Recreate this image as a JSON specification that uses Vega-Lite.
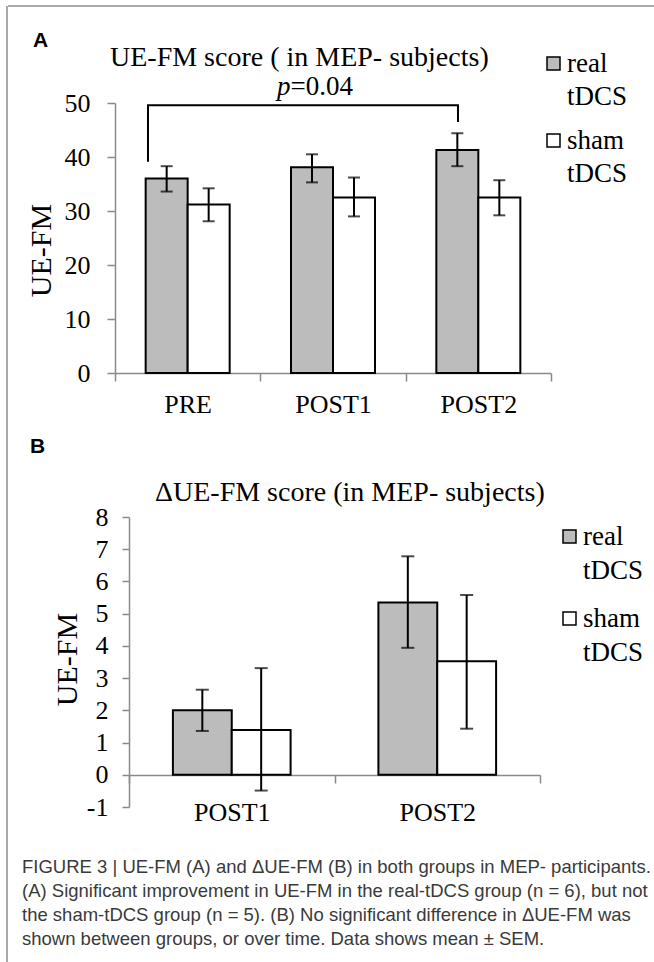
{
  "$schema": "https://vega.github.io/schema/vega-lite/v6.json",
  "background": "white",
  "padding": {"left": 6, "top": 5, "right": 0, "bottom": 0},
  "autosize": {"type": "pad"},
  "config": {
    "view": {"stroke": null},
    "font": "Liberation Serif",
    "axis": {
      "domainColor": "#8a8a8a", "domainWidth": 1.5, "tickColor": "#8a8a8a", "tickWidth": 1.5, "tickSize": 8,
      "labelFont": "Liberation Serif", "labelFontSize": 26, "labelColor": "black",
      "titleFont": "Liberation Serif", "titleFontSize": 30, "titleFontWeight": "normal", "titleColor": "black",
      "grid": false
    },
    "legend": {"labelFont": "Liberation Serif", "labelFontSize": 27, "labelColor": "black"},
    "title": {"font": "Liberation Serif", "fontSize": 28, "fontWeight": "normal", "color": "black"}
  },
  "spacing": -1,
  "hconcat": [
    {
      "width": 1,
      "height": 1,
      "data": {"values": [{"fx": 0, "fy": 0, "fy2": 1}]},
      "mark": {"type": "rule", "color": "#8c8c8c", "strokeWidth": 1.5},
      "encoding": {
        "x": {"field": "fx", "type": "quantitative", "scale": {"domain": [0, 1], "range": [0, 1], "nice": false, "zero": false}, "axis": null},
        "y": {"field": "fy", "type": "quantitative", "scale": {"domain": [0, 1], "range": [-97, 859], "nice": false, "zero": false}, "axis": null},
        "y2": {"field": "fy2"}
      }
    },
    {
      "title": {
        "text": [
          "FIGURE 3 | UE-FM (A) and ΔUE-FM (B) in both groups in MEP- participants.",
          "(A) Significant improvement in UE-FM in the real-tDCS group (n = 6), but not",
          "the sham-tDCS group (n = 5). (B) No significant difference in ΔUE-FM was",
          "shown between groups, or over time. Data shows mean ± SEM."
        ],
        "orient": "bottom", "anchor": "start", "frame": "bounds", "dx": 14.75, "offset": 33,
        "font": "Liberation Sans", "fontSize": 18.5, "lineHeight": 24, "color": "#3a3a3a", "fontWeight": "normal"
      },
      "spacing": 19,
      "resolve": {"scale": {"fill": "independent", "xOffset": "independent"}, "legend": {"fill": "independent"}},
      "vconcat": [
        {
          "title": {"text": "A", "anchor": "start", "frame": "bounds", "dx": 25.75, "offset": -45.65, "font": "Liberation Sans", "fontSize": 21, "fontWeight": "bold"},
          "vconcat": [
            {
              "width": 436,
              "height": 270,
              "title": {"text": "UE-FM score ( in  MEP- subjects)", "anchor": "start", "frame": "group", "dx": -5, "offset": -66.65},
              "layer": [
                {
                  "layer": [
                    {
                      "data": {"values": [
                        {"time": "PRE", "group": "real tDCS", "mean": 36.0, "lo": 33.6, "hi": 38.3},
                        {"time": "PRE", "group": "sham tDCS", "mean": 31.2, "lo": 28.1, "hi": 34.2},
                        {"time": "POST1", "group": "real tDCS", "mean": 38.1, "lo": 35.3, "hi": 40.5},
                        {"time": "POST1", "group": "sham tDCS", "mean": 32.5, "lo": 29.0, "hi": 36.2},
                        {"time": "POST2", "group": "real tDCS", "mean": 41.3, "lo": 38.3, "hi": 44.4},
                        {"time": "POST2", "group": "sham tDCS", "mean": 32.5, "lo": 29.2, "hi": 35.7}
                      ]},
                      "encoding": {
                        "x": {"field": "time", "type": "nominal", "sort": ["PRE", "POST1", "POST2"],
                              "scale": {"paddingInner": 0, "paddingOuter": 0},
                              "axis": {"title": null, "labelAngle": 0, "tickBand": "extent", "labelPadding": 10, "labelFontSize": 26}},
                        "xOffset": {"field": "group", "type": "nominal", "scale": {"paddingInner": 0, "paddingOuter": 0.73, "range": [0, 145.33]}}
                      },
                      "layer": [
                        {
                          "mark": {"type": "bar", "stroke": "black", "strokeWidth": 2},
                          "encoding": {
                            "y": {"field": "mean", "type": "quantitative", "title": "UE-FM", "scale": {"domain": [0, 50]},
                                  "axis": {"values": [0, 10, 20, 30, 40, 50], "labelOverlap": false, "labelPadding": 17, "titleX": -65, "titleY": 147, "titleBaseline": "alphabetic", "titleAngle": 270, "titleAlign": "center"}},
                            "fill": {"field": "group", "type": "nominal",
                                     "scale": {"domain": ["real tDCS", "sham tDCS"], "range": ["#bcbcbc", "#ffffff"]},
                                     "legend": {"title": null, "orient": "none", "legendX": 425, "legendY": -53, "symbolType": "square", "symbolSize": 169,
                                                "symbolStrokeColor": "black", "symbolStrokeWidth": 1.5, "labelExpr": "split(datum.label, ' ')",
                                                "labelOffset": 0, "rowPadding": 16, "labelFontSize": 27, "labelBaseline": "middle", "padding": 0, "labelLimit": 0,
                                                "encode": {"labels": {"update": {"lineHeight": {"value": 33}}}}}}
                          }
                        },
                        {
                          "mark": {"type": "rule", "color": "black", "strokeWidth": 2},
                          "encoding": {
                            "y": {"field": "lo", "type": "quantitative", "title": "UE-FM", "scale": {"domain": [0, 50]},
                                  "axis": {"values": [0, 10, 20, 30, 40, 50], "labelOverlap": false, "labelPadding": 17, "titleX": -65, "titleY": 147, "titleBaseline": "alphabetic", "titleAngle": 270, "titleAlign": "center"}},
                            "y2": {"field": "hi"}
                          }
                        },
                        {
                          "mark": {"type": "tick", "color": "black", "thickness": 2, "size": 12, "orient": "horizontal"},
                          "encoding": {"y": {"field": "lo", "type": "quantitative", "title": "UE-FM", "scale": {"domain": [0, 50]},
                                  "axis": {"values": [0, 10, 20, 30, 40, 50], "labelOverlap": false, "labelPadding": 17, "titleX": -65, "titleY": 147, "titleBaseline": "alphabetic", "titleAngle": 270, "titleAlign": "center"}}}
                        },
                        {
                          "mark": {"type": "tick", "color": "black", "thickness": 2, "size": 12, "orient": "horizontal"},
                          "encoding": {"y": {"field": "hi", "type": "quantitative", "title": "UE-FM", "scale": {"domain": [0, 50]},
                                  "axis": {"values": [0, 10, 20, 30, 40, 50], "labelOverlap": false, "labelPadding": 17, "titleX": -65, "titleY": 147, "titleBaseline": "alphabetic", "titleAngle": 270, "titleAlign": "center"}}}
                        }
                      ]
                    },
                    {
                      "data": {"values": [
                        {"bx": 0.227, "by": 39.1, "o": 1},
                        {"bx": 0.227, "by": 49.6, "o": 2},
                        {"bx": 2.36, "by": 49.6, "o": 3},
                        {"bx": 2.36, "by": 46.5, "o": 4}
                      ]},
                      "mark": {"type": "line", "color": "black", "strokeWidth": 2},
                      "encoding": {
                        "x": {"field": "bx", "type": "quantitative", "scale": {"domain": [0, 3], "nice": false, "zero": false}, "axis": null},
                        "y": {"field": "by", "type": "quantitative", "title": "UE-FM", "scale": {"domain": [0, 50]},
                              "axis": {"values": [0, 10, 20, 30, 40, 50], "labelOverlap": false, "labelPadding": 17, "titleX": -65, "titleY": 147, "titleBaseline": "alphabetic", "titleAngle": 270, "titleAlign": "center"}},
                        "order": {"field": "o", "type": "quantitative"}
                      }
                    },
                    {
                      "data": {"values": [{"tx": 1.208, "ty": 51.5, "p": "p", "rest": "=0.04"}]},
                      "encoding": {
                        "x": {"field": "tx", "type": "quantitative", "scale": {"domain": [0, 3], "nice": false, "zero": false}, "axis": null},
                        "y": {"field": "ty", "type": "quantitative", "title": "UE-FM", "scale": {"domain": [0, 50]},
                              "axis": {"values": [0, 10, 20, 30, 40, 50], "labelOverlap": false, "labelPadding": 17, "titleX": -65, "titleY": 147, "titleBaseline": "alphabetic", "titleAngle": 270, "titleAlign": "center"}}
                      },
                      "layer": [
                        {"mark": {"type": "text", "align": "right", "baseline": "alphabetic", "fontStyle": "italic", "fontSize": 27, "font": "Liberation Serif", "color": "black"},
                         "encoding": {"text": {"field": "p"}}},
                        {"mark": {"type": "text", "align": "left", "baseline": "alphabetic", "fontSize": 27, "font": "Liberation Serif", "color": "black"},
                         "encoding": {"text": {"field": "rest"}}}
                      ]
                    }
                  ],
                  "resolve": {"scale": {"x": "independent"}}
                },
                {
                  "data": {"values": [{"fx": 0, "fx2": 1, "fy": 0}]},
                  "mark": {"type": "rule", "color": "#8c8c8c", "strokeWidth": 1.5},
                  "encoding": {
                    "x": {"field": "fx", "type": "quantitative", "scale": {"domain": [0, 1], "range": [-107, 539], "nice": false, "zero": false}, "axis": null},
                    "x2": {"field": "fx2"},
                    "y": {"field": "fy", "type": "quantitative", "scale": {"domain": [0, 1], "range": [-97, 859], "nice": false, "zero": false}, "axis": null}
                  }
                }
              ],
              "resolve": {"scale": {"x": "independent", "y": "independent"}}
            }
          ]
        },
        {
          "title": {"text": "B", "anchor": "start", "frame": "bounds", "dx": -22, "offset": 22, "font": "Liberation Sans", "fontSize": 21, "fontWeight": "bold"},
          "vconcat": [
            {
              "width": 425,
              "height": 290,
              "title": {"text": "ΔUE-FM score  (in MEP- subjects)", "anchor": "start", "frame": "group", "dx": 40, "offset": -3},
              "data": {"values": [
                {"time": "POST1", "group": "real tDCS", "mean": 2.0, "lo": 1.36, "hi": 2.64},
                {"time": "POST1", "group": "sham tDCS", "mean": 1.39, "lo": -0.49, "hi": 3.31},
                {"time": "POST2", "group": "real tDCS", "mean": 5.35, "lo": 3.94, "hi": 6.78},
                {"time": "POST2", "group": "sham tDCS", "mean": 3.52, "lo": 1.43, "hi": 5.58}
              ]},
              "encoding": {
                "x": {"field": "time", "type": "nominal", "sort": ["POST1", "POST2"],
                      "scale": {"paddingInner": 0, "paddingOuter": 0, "range": [14, 425]},
                      "axis": {"title": null, "labelAngle": 0, "tickBand": "extent", "labelPadding": 16, "offset": -32, "labelFontSize": 26}},
                "xOffset": {"field": "group", "type": "nominal", "scale": {"paddingInner": 0, "paddingOuter": 0.746, "range": [0, 205.5]}}
              },
              "layer": [
                {
                  "mark": {"type": "bar", "stroke": "black", "strokeWidth": 2},
                  "encoding": {
                    "y": {"field": "mean", "type": "quantitative", "title": "UE-FM", "scale": {"domain": [-1, 8], "nice": false},
                          "axis": {"values": [-1, 0, 1, 2, 3, 4, 5, 6, 7, 8], "labelExpr": "'' + datum.value", "labelOverlap": false, "offset": -14,
                                   "labelPadding": 14, "tickSize": 7, "titleX": -53, "titleY": 142, "titleBaseline": "alphabetic", "titleAngle": 270, "titleAlign": "center"}},
                    "fill": {"field": "group", "type": "nominal",
                             "scale": {"domain": ["real tDCS", "sham tDCS"], "range": ["#bcbcbc", "#ffffff"]},
                             "legend": {"title": null, "orient": "none", "legendX": 441, "legendY": 6, "symbolType": "square", "symbolSize": 169,
                                        "symbolStrokeColor": "black", "symbolStrokeWidth": 1.5, "labelExpr": "split(datum.label, ' ')",
                                        "labelOffset": 0, "rowPadding": 20, "labelFontSize": 27, "labelBaseline": "middle", "padding": 0, "labelLimit": 0,
                                        "encode": {"labels": {"update": {"lineHeight": {"value": 34}}}}}}
                  }
                },
                {
                  "mark": {"type": "rule", "color": "black", "strokeWidth": 2},
                  "encoding": {
                    "y": {"field": "lo", "type": "quantitative", "title": "UE-FM", "scale": {"domain": [-1, 8], "nice": false},
                          "axis": {"values": [-1, 0, 1, 2, 3, 4, 5, 6, 7, 8], "labelExpr": "'' + datum.value", "labelOverlap": false, "offset": -14,
                                   "labelPadding": 14, "tickSize": 7, "titleX": -53, "titleY": 142, "titleBaseline": "alphabetic", "titleAngle": 270, "titleAlign": "center"}},
                    "y2": {"field": "hi"}
                  }
                },
                {
                  "mark": {"type": "tick", "color": "black", "thickness": 2, "size": 13, "orient": "horizontal"},
                  "encoding": {"y": {"field": "lo", "type": "quantitative", "title": "UE-FM", "scale": {"domain": [-1, 8], "nice": false},
                          "axis": {"values": [-1, 0, 1, 2, 3, 4, 5, 6, 7, 8], "labelExpr": "'' + datum.value", "labelOverlap": false, "offset": -14,
                                   "labelPadding": 14, "tickSize": 7, "titleX": -53, "titleY": 142, "titleBaseline": "alphabetic", "titleAngle": 270, "titleAlign": "center"}}}
                },
                {
                  "mark": {"type": "tick", "color": "black", "thickness": 2, "size": 13, "orient": "horizontal"},
                  "encoding": {"y": {"field": "hi", "type": "quantitative", "title": "UE-FM", "scale": {"domain": [-1, 8], "nice": false},
                          "axis": {"values": [-1, 0, 1, 2, 3, 4, 5, 6, 7, 8], "labelExpr": "'' + datum.value", "labelOverlap": false, "offset": -14,
                                   "labelPadding": 14, "tickSize": 7, "titleX": -53, "titleY": 142, "titleBaseline": "alphabetic", "titleAngle": 270, "titleAlign": "center"}}}
                }
              ]
            }
          ]
        }
      ]
    }
  ]
}
